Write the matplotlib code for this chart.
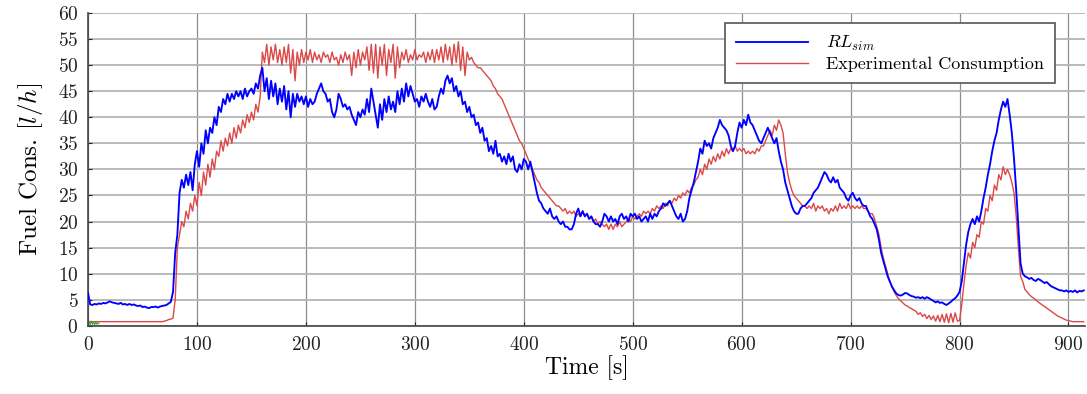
import numpy as np
import matplotlib
matplotlib.use("Agg")
import matplotlib.pyplot as plt

plt.rcParams["font.family"] = ["cmr10", "DejaVu Serif"]
plt.rcParams["mathtext.fontset"] = "cm"
plt.rcParams["axes.unicode_minus"] = False
plt.rcParams["axes.formatter.use_mathtext"] = True

# sampling time of both traces [s]
time_step = 2
time_end = 914

# RL_sim fuel consumption [l/h], one value every 2 s
rl_sim = [
    6.3, 4.1, 4.0, 4.2, 4.1, 4.3, 4.2, 4.4, 4.3, 4.5,
    4.7, 4.5, 4.4, 4.3, 4.2, 4.4, 4.1, 4.2, 4.0, 4.2,
    4.0, 4.1, 3.9, 3.8, 3.9, 3.6, 3.7, 3.5, 3.4, 3.6,
    3.6, 3.7, 3.5, 3.7, 3.8, 3.9, 4.0, 4.3, 4.6, 6.5,
    14.0, 17.5, 25.5, 28.0, 26.5, 29.0, 27.0, 29.5, 26.0, 31.0,
    33.5, 30.5, 35.0, 33.0, 37.5, 35.0, 38.0, 37.0, 40.0, 38.5,
    42.0, 41.0, 43.5, 42.5, 44.5, 43.0, 44.5, 43.5, 45.0, 44.0,
    45.0, 43.5, 45.5, 44.0, 45.0, 45.5, 44.5, 46.5, 45.5, 48.0,
    49.5, 45.0, 47.5, 43.5, 47.0, 44.0, 46.5, 42.5, 45.5, 43.0,
    46.0, 41.5, 45.0, 40.0, 44.5, 42.0, 44.5, 43.0, 44.0, 42.5,
    44.0, 42.0, 43.5, 42.5, 43.0, 44.5, 45.5, 46.5, 45.0, 44.5,
    43.0, 43.5, 41.0, 40.0, 41.5, 44.5, 43.5, 42.0, 42.5, 41.5,
    42.0, 40.5, 39.5, 38.5, 41.0, 40.0, 41.5, 40.5, 43.5, 41.0,
    45.5, 43.0, 40.5, 38.0, 42.5, 39.5, 43.5, 41.0, 44.0, 41.5,
    43.0, 41.0, 45.0, 42.5, 45.5, 43.0, 46.5, 44.0, 46.0, 44.5,
    43.0, 43.5, 42.0, 44.0, 43.0, 44.5, 43.0, 42.0, 43.5, 41.5,
    42.0, 44.0, 45.5, 44.5, 47.0, 48.0, 46.5, 47.5, 45.0, 46.0,
    44.0, 45.0, 42.5, 43.0, 41.0, 42.0, 40.0, 40.5, 38.5, 39.0,
    37.0, 38.0, 35.5, 36.0, 33.5, 34.5, 33.0, 35.5, 32.5, 33.0,
    31.5, 32.5, 31.0, 33.0, 31.5, 32.5, 30.0, 29.5, 31.0, 30.0,
    32.0, 31.5, 30.0, 31.5, 29.5, 27.5, 25.5, 24.0, 23.5, 22.5,
    22.0, 21.5, 22.5, 21.0, 20.5, 21.0, 20.0, 19.5, 20.0, 19.0,
    19.0, 18.5, 18.5, 19.5, 21.5, 22.5, 21.0, 22.0, 21.0, 21.5,
    20.5, 21.0, 20.0, 19.5, 19.5, 19.0, 20.0, 21.5, 21.0, 20.0,
    21.0, 20.0, 20.5, 19.5, 21.0, 21.5, 20.5, 21.0, 20.0, 21.5,
    21.0, 21.5, 20.5, 21.0, 20.0, 20.5, 21.0, 20.0, 21.5, 20.5,
    21.5, 21.0, 22.0, 22.5, 23.5, 23.0, 23.5, 24.0, 23.0, 22.0,
    21.0, 20.5, 21.5, 20.0, 20.5, 22.0, 24.5, 26.0, 27.5, 29.5,
    31.5, 34.0, 33.0, 35.5, 34.5, 35.0, 34.0, 36.0, 37.0, 38.0,
    39.5, 38.5, 38.0, 37.5, 36.5, 34.5, 33.5, 34.5, 37.0, 39.0,
    38.0, 39.5, 38.5, 40.5, 39.0, 38.5, 37.5, 36.5, 35.5, 35.0,
    36.0, 37.0, 38.0, 37.0, 36.0, 35.0, 36.0, 33.5, 31.5, 30.0,
    27.5, 26.0, 24.5, 23.0, 22.0, 21.5, 21.5, 22.5, 23.0, 23.0,
    23.5, 24.0, 24.5, 25.5, 26.0, 26.5, 27.5, 28.5, 29.5, 29.0,
    28.0, 27.5, 28.5, 27.5, 28.0, 26.5, 26.0, 25.5, 24.5, 24.0,
    25.0, 25.5, 24.5, 24.0, 24.5, 23.5, 23.0, 23.0, 22.0, 21.0,
    20.5, 19.5, 18.5, 16.5, 14.0, 12.5, 11.0, 9.5, 8.5, 7.5,
    6.8, 6.2, 5.9, 5.8, 6.0, 6.3, 6.2, 5.9, 5.7, 5.6,
    5.4, 5.5, 5.3, 5.5, 5.2, 5.5, 5.3, 5.0, 4.8, 4.5,
    4.7, 4.4, 4.5, 4.2, 4.0, 4.3, 4.6, 5.0, 5.3, 5.8,
    6.5, 8.5, 12.0, 15.5, 18.0, 19.5, 20.5, 19.5, 21.0, 20.0,
    22.0, 24.5, 26.5, 29.0, 31.0, 33.5, 35.5, 37.0, 39.5, 41.5,
    43.0, 42.0, 43.5, 40.5, 37.0, 32.0, 26.0, 19.0, 12.0, 10.0,
    9.5, 9.3, 9.0, 9.2, 8.8, 8.6, 9.0, 8.8, 8.5, 8.2,
    8.4, 8.0, 7.6, 7.4, 7.2, 7.0, 6.8, 6.8, 6.6, 6.8,
    6.5, 6.7, 6.5, 6.8, 6.4, 6.7, 6.6, 6.8,
]

# measured fuel consumption [l/h], one value every 2 s
experimental = [
    0.8, 0.8, 0.8, 0.8, 0.8, 0.8, 0.8, 0.8, 0.8, 0.8,
    0.8, 0.8, 0.8, 0.8, 0.8, 0.8, 0.8, 0.8, 0.8, 0.8,
    0.8, 0.8, 0.8, 0.8, 0.8, 0.8, 0.8, 0.8, 0.8, 0.8,
    0.8, 0.8, 0.8, 0.8, 0.8, 0.9, 1.0, 1.2, 1.3, 1.5,
    5.0, 15.0, 17.5, 20.0, 19.0, 22.0, 20.5, 23.5, 22.0, 25.0,
    23.0, 27.5, 25.0, 29.5, 27.0, 31.0, 28.5, 32.0, 30.0, 33.5,
    32.5, 35.5, 33.5, 36.0, 34.5, 37.0, 35.0, 38.0, 36.0, 38.5,
    37.0, 39.5, 38.0, 40.5, 39.0, 41.0, 39.5, 42.5, 41.0, 44.0,
    52.5, 50.5, 54.0, 50.0, 53.5, 51.0, 54.0, 50.5, 53.0, 50.0,
    53.5, 50.5, 54.0, 48.5, 53.0, 47.0, 52.5, 50.0, 53.0, 50.5,
    52.5, 51.0, 53.0, 50.5, 52.5, 51.0, 52.0, 50.5, 52.5, 51.5,
    52.0, 50.5, 52.5, 51.0, 51.5, 50.0, 52.0, 50.5, 52.5, 51.0,
    52.0, 48.0, 52.5, 49.5, 53.0, 50.0, 52.5, 51.0, 53.5, 49.0,
    54.0, 48.5, 54.0, 47.5, 53.5, 50.0, 54.0, 48.0, 53.0, 50.5,
    54.0, 47.5, 53.5, 49.5, 52.5, 51.0, 53.0, 50.5, 52.0, 51.0,
    53.0, 51.0, 52.0, 51.5, 52.5, 50.5, 52.5, 51.0, 53.0, 50.5,
    53.0, 51.0, 53.5, 50.5, 54.0, 51.0, 53.5, 50.0, 54.0, 50.5,
    54.5, 49.0, 53.5, 48.0, 52.5, 51.0, 51.5, 50.5, 50.0, 49.5,
    49.5, 49.0, 48.5, 48.0, 47.5, 47.0, 46.0, 45.5, 44.5, 44.0,
    43.5, 42.5, 41.5, 40.5, 39.5, 38.5, 37.5, 36.5, 35.5, 35.0,
    34.0, 33.0, 32.0, 31.0, 30.0, 29.0, 28.0, 27.5, 26.5, 26.0,
    25.5, 25.0, 24.5, 24.0, 23.5, 23.0, 23.0, 22.5, 22.0, 22.5,
    21.5, 22.0, 21.5, 22.0, 21.0, 21.5, 21.0, 22.0, 21.0, 21.5,
    20.5, 21.0, 20.0, 20.5, 19.5, 20.0, 19.5, 19.0, 19.5, 18.5,
    19.5, 18.5, 19.5, 19.0, 20.0, 19.0, 19.5, 20.0, 20.5, 20.0,
    21.0, 20.5, 21.0, 21.5, 21.0, 22.0, 21.5, 22.0, 21.5, 22.5,
    22.0, 23.0, 22.5, 23.0, 22.5, 23.5, 23.0, 24.0, 23.5, 24.5,
    24.0, 25.0, 24.5, 25.5, 25.0, 26.0, 25.5, 26.5, 27.0, 28.0,
    28.5, 30.0, 29.0, 31.0, 30.0, 32.0, 31.0, 32.5, 31.5, 33.0,
    32.0, 33.5, 32.5, 34.0, 33.0, 34.0, 33.5, 34.5, 33.5, 34.0,
    33.5, 34.0, 33.0, 33.5, 33.0, 33.5, 33.0, 34.0, 33.5, 34.5,
    34.5, 35.5, 36.5, 37.5, 36.5, 38.5, 37.5, 39.5, 38.5, 37.0,
    33.0, 29.5, 27.5, 26.0, 25.0, 24.5, 24.0, 23.5, 23.0, 23.0,
    22.5, 23.0, 22.5, 23.5, 22.0, 23.0, 22.5, 23.0, 22.0, 22.5,
    21.5, 22.5, 22.0, 23.0, 22.0, 23.5, 22.5, 23.0, 22.5, 23.5,
    22.5, 23.0, 22.5, 23.0, 22.5, 23.0, 22.5, 22.5, 22.0, 21.5,
    21.5, 20.5, 19.0, 17.5, 15.0, 13.0, 11.5, 10.0, 8.5, 7.5,
    6.5, 5.8, 5.2, 4.8, 4.4, 4.0, 3.8, 3.5, 3.3, 3.0,
    2.8, 2.2, 2.5, 1.8, 2.2, 1.4, 2.0, 1.2, 1.9, 0.9,
    2.0, 0.8, 2.2, 0.7, 2.3, 0.6, 2.4, 0.7, 2.5, 0.9,
    1.0, 4.0, 8.0, 11.5, 14.0, 13.0, 16.0, 15.0, 17.5, 17.0,
    20.0, 19.5, 22.5, 22.0, 25.0, 24.0, 27.0, 26.0, 29.0, 28.0,
    30.5, 29.0, 30.0, 29.0, 27.5, 25.5, 21.0, 15.0, 9.5, 8.5,
    7.0, 6.5, 6.0, 5.6, 5.3, 5.0, 4.6, 4.3, 4.0, 3.7,
    3.4, 3.1, 2.8, 2.5, 2.2, 1.9, 1.7, 1.5, 1.3, 1.1,
    1.0, 0.9, 0.8, 0.8, 0.8, 0.8, 0.8, 0.8,
]

# short third trace at the start of the record
aux_time = [0, 1, 2, 3, 4, 5, 6, 7, 8, 9, 10]
aux_values = [0.3, 0.8, 0.2, 0.9, 0.3, 0.8, 0.2, 0.7, 0.3, 0.6, 0.4]

time = np.arange(0, time_end + 1, time_step)

fig = plt.figure(figsize=(10.87, 3.94), dpi=100)
ax = fig.add_axes([0.081, 0.173, 0.917, 0.794])

ax.plot(time, rl_sim, color="#0000ff", lw=1.35, label=r"$RL_{sim}$", zorder=3)
ax.plot(time, experimental, color="#dc4848", lw=1.0,
        label="Experimental Consumption", zorder=2)
ax.plot(aux_time, aux_values, color="#33aa33", lw=0.8, zorder=2)

ax.set_xlim(0, 915)
ax.set_ylim(0, 60)
ax.set_xticks(np.arange(0, 901, 100))
ax.set_yticks(np.arange(0, 61, 5))

ax.grid(axis="y", color="#b4b4b4", lw=1.3)
ax.grid(axis="x", color="#8c8c8c", lw=0.9)
ax.set_axisbelow(True)

for side in ("top", "right"):
    ax.spines[side].set_visible(False)
for side in ("left", "bottom"):
    ax.spines[side].set_color("#444444")
    ax.spines[side].set_linewidth(1.2)

ax.tick_params(axis="both", direction="in", length=3, labelsize=14,
               colors="#222222", pad=7)

ax.set_xlabel("Time [s]", fontsize=17, labelpad=1)
ax.set_ylabel(r"Fuel Cons. $[l/h]$", fontsize=18, labelpad=9)

leg = ax.legend(loc="upper right", bbox_to_anchor=(0.970, 0.968),
                borderaxespad=0, fontsize=13, handlelength=4.0,
                handletextpad=1.0, fancybox=False, framealpha=1,
                edgecolor="#555555", borderpad=0.6, labelspacing=0.2)
leg.get_frame().set_linewidth(1.2)

fig.savefig("out.png", dpi=100)
